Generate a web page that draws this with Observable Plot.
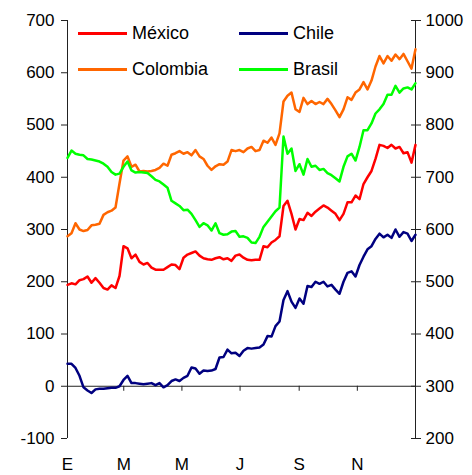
<!DOCTYPE html>
<html>
<head>
<meta charset="utf-8">
<script src="https://cdn.jsdelivr.net/npm/d3@7"></script>
<script src="https://cdn.jsdelivr.net/npm/@observablehq/plot@0.6"></script>
<style>
  html, body { margin: 0; padding: 0; background: #fff; }
  #wrap { position: relative; width: 472px; height: 475px; font-family: "Liberation Sans", Arial, sans-serif; }
  .leg { position: absolute; display: flex; align-items: center; font-size: 18px; color: #000; line-height: 1; }
  .leg span.sw { display: inline-block; width: 49px; height: 3px; margin-right: 5px; }
</style>
</head>
<body>
<div id="wrap"></div>
<script>
const mexico = [194,197,195,203,205,210,198,207,198,188,185,193,188,211,268,264,245,252,238,233,236,227,223,223,223,228,233,232,224,246,252,255,258,250,245,243,242,245,247,243,245,240,250,252,246,242,241,242,242,268,266,275,280,287,345,355,330,300,320,318,332,326,334,340,346,342,336,330,318,330,352,352,365,358,387,400,412,435,462,460,456,462,455,458,446,448,428,462];
const chile = [43,43,35,20,-2,-8,-13,-6,-5,-5,-4,-3,-3,0,12,20,6,6,5,4,5,6,2,6,-2,2,10,13,10,16,20,36,34,24,30,29,30,33,55,56,70,63,64,58,68,73,72,73,74,80,96,95,115,124,165,182,162,150,168,158,192,190,200,196,200,191,194,185,177,200,217,220,210,232,248,262,268,282,292,285,290,284,300,286,295,292,278,290];
const colombia = [287,293,312,300,297,299,308,309,311,328,333,336,342,388,432,440,420,424,411,412,411,412,414,418,426,422,443,446,450,445,448,442,452,440,435,422,414,421,425,424,430,452,450,452,448,455,458,450,452,470,466,476,462,484,545,556,562,530,525,552,540,546,540,544,540,550,540,528,515,530,553,548,562,568,582,568,585,612,632,618,632,623,635,626,636,622,608,645];
const brasil = [437,451,445,443,442,435,434,432,430,426,420,410,405,407,420,430,413,409,410,409,408,402,395,392,386,380,355,350,345,337,338,330,318,305,312,308,298,312,293,290,291,296,297,286,287,284,275,274,286,305,315,325,335,342,478,445,455,412,425,405,435,420,422,414,416,408,404,398,392,420,440,445,432,458,490,490,503,522,530,540,558,558,575,562,570,572,568,580];

const seriesNames = ["México", "Chile", "Colombia", "Brasil"];
const seriesColors = ["#ff0000", "#000080", "#ff6600", "#00ff00"];

const xTickDays = [0, 59, 120, 181, 243, 304, 365];
const xTickLabels = ["E", "M", "M", "J", "S", "N", ""];
const yTicks = [-100, 0, 100, 200, 300, 400, 500, 600, 700];
const leftTickLabels = ["-100", "0", "100", "200", "300", "400", "500", "600", "700"];
const rightTickLabels = ["200", "300", "400", "500", "600", "700", "800", "900", "1000"];

const nPts = mexico.length;
const yearDays = 365;
function rows(vals, name) {
  return vals.map((v, i) => ({day: i * yearDays / (nPts - 1), value: v, name}));
}
const allSeries = [mexico, chile, colombia, brasil].map((v, k) => rows(v, seriesNames[k]));

const chart = Plot.plot({
  width: 472,
  height: 475,
  marginTop: 20,
  marginBottom: 37,
  marginLeft: 67,
  marginRight: 57,
  x: {domain: [0, yearDays]},
  y: {domain: [-100, 700]},
  style: {fontFamily: "'Liberation Sans', Arial, sans-serif", fontSize: "17px", color: "#000", background: "#fff"},
  marks: [
    Plot.ruleY([0], {stroke: "#222", strokeWidth: 1}),
    Plot.ruleX(xTickDays, {x: d => d, y1: 0, y2: -9.6, stroke: "#222"}),
    Plot.axisX(xTickDays, {tickSize: 0, tickPadding: 19, tickFormat: d => xTickLabels[xTickDays.indexOf(d)], label: null}),
    Plot.axisY(yTicks, {anchor: "left", tickSize: 6, tickPadding: 7, tickFormat: d => leftTickLabels[yTicks.indexOf(d)], label: null, stroke: "#222"}),
    Plot.axisY(yTicks, {anchor: "right", tickSize: 10, dx: -5, tickPadding: 5, tickFormat: d => rightTickLabels[yTicks.indexOf(d)], label: null, stroke: "#222"}),
    Plot.ruleX([0, yearDays], {stroke: "#222", strokeWidth: 1}),
    ...allSeries.map((data, k) => Plot.line(data, {x: "day", y: "value", stroke: seriesColors[k], strokeWidth: 2.5, strokeLinejoin: "round"}))
  ]
});

const wrap = document.getElementById("wrap");
wrap.appendChild(chart);

// Legend inside the plot area (two columns, two rows)
const legPos = [[78, 33], [239, 33], [78, 69], [239, 69]];
seriesNames.forEach((name, k) => {
  const d = document.createElement("div");
  d.className = "leg";
  d.style.left = legPos[k][0] + "px";
  d.style.top = (legPos[k][1] - 10) + "px";
  d.style.height = "20px";
  d.innerHTML = `<span class="sw" style="background:${seriesColors[k]}"></span>${name}`;
  wrap.appendChild(d);
});
</script>
</body>
</html>
